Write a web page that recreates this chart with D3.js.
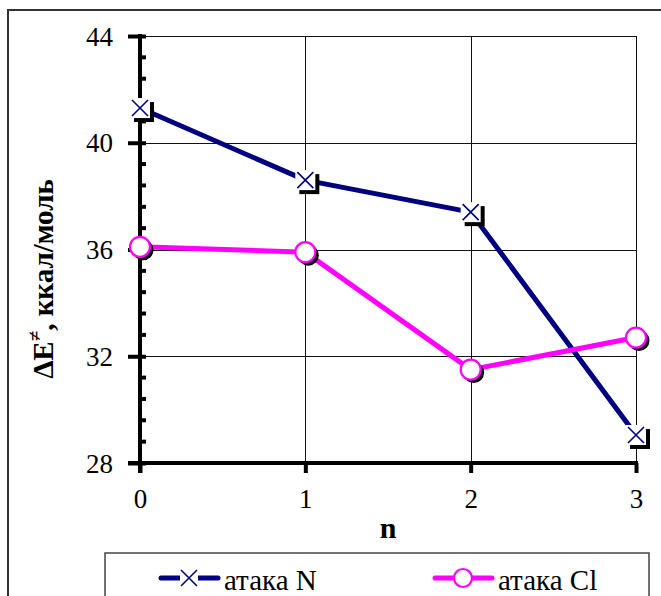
<!DOCTYPE html>
<html><head><meta charset="utf-8"><script src="https://cdn.jsdelivr.net/npm/d3@7/dist/d3.min.js"></script></head>
<body style="margin:0">
<svg id="chart" width="661" height="596" font-family="Liberation Serif" style="display:block"></svg>
<script>
// ---- data ----
const categories = [0, 1, 2, 3];
const seriesNames = ["атака N", "атака Cl"];
const attackN  = [41.3, 38.6, 37.4, 29.05];
const attackCl = [36.1, 35.9, 31.5, 32.7];
const yTicks = [28, 32, 36, 40, 44];
const xTicks = [0, 1, 2, 3];
const yMinorStep = 0.8;

const svg = d3.select("#chart");
const plot = {left: 140, right: 636, top: 36, bottom: 463};
const FONT = '"Liberation Serif"';

const x = d3.scaleLinear().domain([0, 3]).range([plot.left, plot.right]);
const y = d3.scaleLinear().domain([28, 44]).range([plot.bottom, plot.top]);

// outer chart border (cropped on right/bottom)
svg.append("rect").attr("x", 8).attr("y", 10).attr("width", 700).attr("height", 700)
  .attr("fill", "none").attr("stroke", "#333").attr("stroke-width", 2);

// gridlines
const grid = svg.append("g");
grid.selectAll("line.h").data(yTicks.filter(d => d !== 28)).join("line")
  .attr("x1", plot.left).attr("x2", plot.right)
  .attr("y1", d => Math.round(y(d)) + 0.5).attr("y2", d => Math.round(y(d)) + 0.5)
  .attr("stroke", "#111").attr("stroke-width", 1);
grid.selectAll("line.v").data(xTicks.filter(d => d !== 0)).join("line")
  .attr("x1", d => Math.round(x(d)) + 0.5).attr("x2", d => Math.round(x(d)) + 0.5)
  .attr("y1", plot.top).attr("y2", plot.bottom)
  .attr("stroke", "#111").attr("stroke-width", 1);

// y axis
const yAxis = d3.axisLeft(y).tickValues(yTicks).tickSize(12).tickPadding(14)
  .tickFormat(d3.format("d"));
const gy = svg.append("g").attr("transform", `translate(${plot.left},0)`).call(yAxis)
  .attr("font-family", "Liberation Serif").attr("font-size", 27);
gy.select(".domain").remove();
gy.selectAll(".tick line").attr("x2", -12).attr("x1", 6).attr("stroke", "#000").attr("stroke-width", 4);
gy.selectAll(".tick text").attr("fill", "#000")
  .style("font-family", FONT).style("font-size", "27px").attr("x", -27).attr("dy", "0.34em");
// minor ticks
const minor = d3.range(28, 44.001, yMinorStep).filter(v => !yTicks.some(t => Math.abs(t - v) < 1e-6));
svg.append("g").selectAll("line").data(minor).join("line")
  .attr("x1", plot.left).attr("x2", plot.left + 6)
  .attr("y1", d => y(d)).attr("y2", d => y(d))
  .attr("stroke", "#000").attr("stroke-width", 4);
svg.append("line").attr("x1", plot.left).attr("x2", plot.left)
  .attr("y1", plot.top - 2).attr("y2", plot.bottom + 10)
  .attr("stroke", "#000").attr("stroke-width", 4);

// x axis
const xAxis = d3.axisBottom(x).tickValues(xTicks).tickSize(10).tickPadding(16)
  .tickFormat(d3.format("d"));
const gx = svg.append("g").attr("transform", `translate(0,${plot.bottom})`).call(xAxis)
  .attr("font-family", "Liberation Serif").attr("font-size", 27);
gx.select(".domain").remove();
gx.selectAll(".tick line").attr("stroke", "#000").attr("stroke-width", 4);
gx.selectAll(".tick text").attr("fill", "#000")
  .style("font-family", FONT).style("font-size", "27px");
svg.append("line").attr("x1", plot.left - 12).attr("x2", plot.right + 2)
  .attr("y1", plot.bottom).attr("y2", plot.bottom)
  .attr("stroke", "#000").attr("stroke-width", 4);

// axis titles
svg.append("text").attr("x", (plot.left + plot.right) / 2).attr("y", 538)
  .attr("text-anchor", "middle").style("font-size", "30px").style("font-weight", "bold")
  .style("font-family", FONT).text("n");
const yt = svg.append("text").attr("transform", "translate(53,279) rotate(-90)")
  .attr("text-anchor", "middle").style("font-size", "29px").style("font-weight", "bold")
  .style("font-family", FONT);
yt.append("tspan").text("ΔE");
yt.append("tspan").style("font-size", "19px").attr("dy", -12).text("≠");
yt.append("tspan").attr("dy", 12).text(", ккал/моль");

// lines
const line = d3.line().x((d, i) => x(categories[i])).y(d => y(d));
const colN = "#000080", colCl = "#ff00ff";

function drawX(g, cx, cy, s, shadow) {
  if (shadow) {
    g.append("rect").attr("x", cx - 10 + 4).attr("y", cy - 10 + 4).attr("width", 20).attr("height", 20).attr("fill", "#000");
    g.append("rect").attr("x", cx - 10).attr("y", cy - 10).attr("width", 20).attr("height", 20).attr("fill", "#fff");
  }
  g.append("path").attr("d", `M${cx - s},${cy - s}L${cx + s},${cy + s}M${cx - s},${cy + s}L${cx + s},${cy - s}`)
    .attr("stroke", colN).attr("stroke-width", 1.6).attr("fill", "none");
}
function drawO(g, cx, cy, r, shadow) {
  if (shadow) g.append("circle").attr("cx", cx + 3).attr("cy", cy + 3).attr("r", r + 0.5).attr("fill", "#000");
  g.append("circle").attr("cx", cx).attr("cy", cy).attr("r", r).attr("fill", "#fff")
    .attr("stroke", colCl).attr("stroke-width", 2.2);
}

const gN = svg.append("g");
gN.append("path").datum(attackN).attr("d", line).attr("fill", "none")
  .attr("stroke", colN).attr("stroke-width", 5).attr("stroke-linejoin", "round");
attackN.forEach((v, i) => drawX(gN, x(categories[i]), y(v), 8, true));

const gC = svg.append("g");
gC.append("path").datum(attackCl).attr("d", line).attr("fill", "none")
  .attr("stroke", colCl).attr("stroke-width", 5).attr("stroke-linejoin", "round");
attackCl.forEach((v, i) => drawO(gC, x(categories[i]), y(v), 10, true));

// legend
const lg = svg.append("g");
lg.append("rect").attr("x", 105).attr("y", 553).attr("width", 544).attr("height", 80)
  .attr("fill", "#fff").attr("stroke", "#444").attr("stroke-width", 1.5);
const items = [
  {name: seriesNames[0], x0: 161, color: colN, type: "x"},
  {name: seriesNames[1], x0: 435, color: colCl, type: "o"}
];
items.forEach(it => {
  const cy = 578, cx = it.x0 + 28;
  lg.append("line").attr("x1", it.x0).attr("x2", it.x0 + 57).attr("y1", cy).attr("y2", cy)
    .attr("stroke", it.color).attr("stroke-width", 5).attr("stroke-linecap", "round");
  if (it.type === "x") {
    lg.append("rect").attr("x", cx - 9).attr("y", cy - 9).attr("width", 18).attr("height", 18).attr("fill", "#fff");
    drawX(lg, cx, cy, 8, false);
  } else {
    drawO(lg, cx, cy, 9, false);
  }
  lg.append("text").attr("x", it.x0 + 63).attr("y", 590).attr("fill", "#000")
    .style("font-size", "29px").style("font-family", FONT).text(it.name);
});
</script>
</body>
</html>
